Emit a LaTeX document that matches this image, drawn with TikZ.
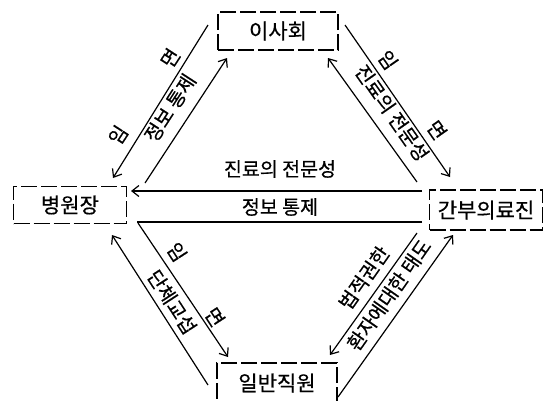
\documentclass[tikz,border=0pt]{standalone}
\usepackage{fontspec}
\setmainfont{Noto Sans CJK KR}[FakeBold=0.5]
\usetikzlibrary{arrows.meta}
\begin{document}
\begin{tikzpicture}[x=1pt,y=-1pt,
  box/.style={draw,line width=1.3pt,dash pattern=on 16pt off 4pt,inner sep=0pt,
    font=\fontsize{21}{23}\selectfont},
  lbl/.style={inner sep=0pt,font=\fontsize{19.5}{21}\selectfont},
  conn/.style={line width=1.2pt},
  arr/.style={conn,-{Straight Barb[length=7pt,width=11pt,line width=1.2pt]}}]
\useasboundingbox (0,0) rectangle (551,400);
% nodes
\node[box,minimum width=120pt,minimum height=38pt] (isa) at (278,31) {이사회};
\node[box,minimum width=113pt,minimum height=37pt] (byung) at (70,205) {병원장};
\node[box,minimum width=113pt,minimum height=40pt] (ganbu) at (486,210) {간부의료진};
\node[box,minimum width=120pt,minimum height=40pt] (ilban) at (277,383) {일반직원};
% endpoints
\coordinate (h1a) at (422,191); \coordinate (h1b) at (131,191);
\coordinate (h2a) at (422,222); \coordinate (h2b) at (137,222);
\coordinate (tlA1) at (208,25);  \coordinate (tlA2) at (113,178);
\coordinate (tlB1) at (145,183); \coordinate (tlB2) at (227,58);
\coordinate (trA1) at (345,25);  \coordinate (trA2) at (450,177);
\coordinate (trB1) at (417,182); \coordinate (trB2) at (328,58);
\coordinate (blC1) at (208,385); \coordinate (blC2) at (112,235);
\coordinate (blD1) at (138,223); \coordinate (blD2) at (228,357);
\coordinate (brE1) at (417,233); \coordinate (brE2) at (330,355);
\coordinate (brF1) at (338,397); \coordinate (brF2) at (453,235);
% connectors
\draw[arr] (h1a) -- (h1b);
\draw[conn] (h2a) -- (h2b);
\draw[arr] (tlA1) -- (tlA2);
\draw[arr] (tlB1) -- (tlB2);
\draw[arr] (trA1) -- (trA2);
\draw[arr] (trB1) -- (trB2);
\draw[arr] (blC1) -- (blC2);
\draw[arr] (blD1) -- (blD2);
\draw[arr] (brE1) -- (brE2);
\draw[arr] (brF1) -- (brF2);
% labels
\node[lbl] (t1) at (280,169) {진료의 전문성};
\node[lbl] (t2) at (280,207) {정보 통제};
\node[lbl,rotate=57] (t3) at (170,108) {정보 통제};
\node[lbl,rotate=57] (t3a) at (118,135) {임};
\node[lbl,rotate=57] (t3b) at (170,58) {면};
\node[lbl,rotate=-55] (t4) at (392,113) {진료의 전문성};
\node[lbl,rotate=-55] (t4a) at (388,60) {임};
\node[lbl,rotate=-55] (t4b) at (437,130) {면};
\node[lbl,rotate=-57] (t5) at (172,302) {단체교섭};
\node[lbl,rotate=-57] (t5a) at (177,252) {임};
\node[lbl,rotate=-57] (t5b) at (215,317) {면};
\node[lbl,rotate=55] (t6) at (364,278) {법적권한};
\node[lbl,rotate=55] (t7) at (389,295) {환자에대한 태도};
\end{tikzpicture}
\end{document}
